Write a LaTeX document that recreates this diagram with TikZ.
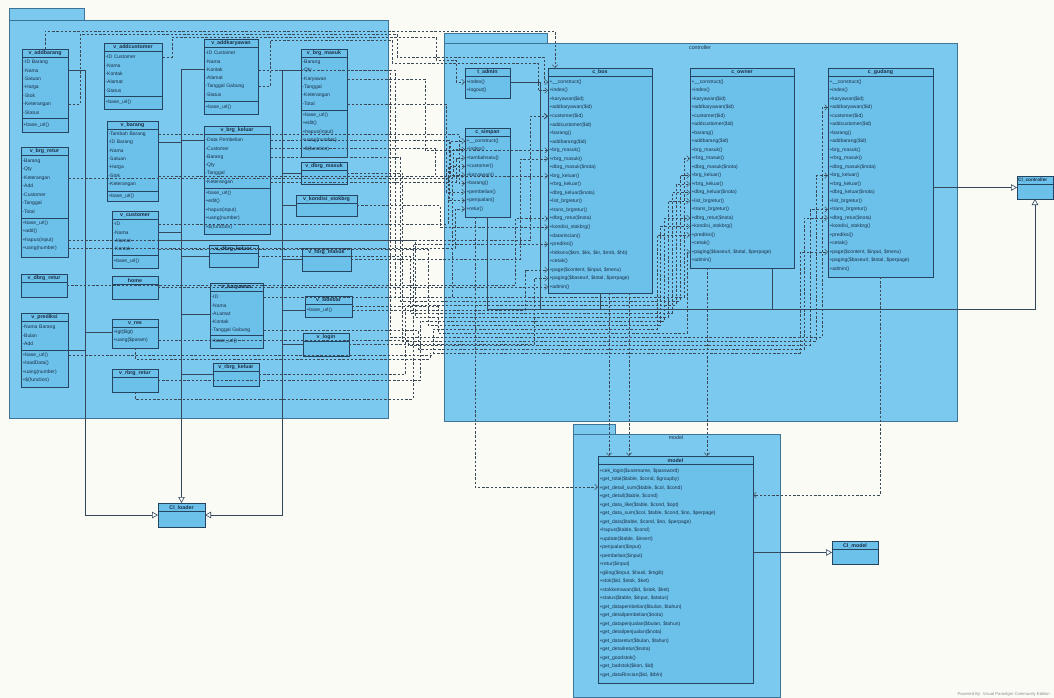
\documentclass[tikz,border=0pt]{standalone}
\usepackage{fontspec}
\setmainfont{Liberation Sans}
\usetikzlibrary{arrows.meta}

\pgfdeclarelayer{boxes}
\pgfdeclarelayer{lines}
\pgfsetlayers{boxes,lines,main}

\definecolor{bgc}{HTML}{FBFBF6}
\definecolor{pkgfill}{HTML}{7BC9EE}
\definecolor{pkgdraw}{HTML}{3F7496}
\definecolor{clsfill}{HTML}{6CC1EB}
\definecolor{clsdraw}{HTML}{24445F}
\definecolor{txtc}{HTML}{1B2E45}
\definecolor{depc}{HTML}{3B4856}
\definecolor{genc}{HTML}{33485C}

\tikzset{
  pkgbox/.style={draw=pkgdraw, fill=pkgfill, line width=0.8pt, inner sep=0, outer sep=0},
  clsbox/.style={draw=clsdraw, fill=clsfill, line width=0.6pt, inner sep=0, outer sep=0},
  clsline/.style={draw=clsdraw, line width=0.5pt},
  clstitle/.style={font=\fontsize{5.3}{6}\selectfont\bfseries, text=txtc, inner sep=0},
  rowtxt/.style={font=\fontsize{5}{6}\selectfont, text=txtc, inner sep=0, anchor=west, align=left},
  pkglabel/.style={font=\fontsize{5.3}{6}\selectfont, text=txtc, inner sep=0},
  dep/.style={draw=depc, line width=0.45pt, dash pattern=on 2.4pt off 1.8pt,
    -{Straight Barb[length=3pt,width=5.5pt]}},
  gen/.style={draw=genc, line width=0.6pt, -{Triangle[length=6pt,width=6.5pt,fill=white]}},
  genl/.style={draw=genc, line width=0.6pt},
}

% class box: name, x, y, width, height, title
\newcommand{\ucls}[6]{%
  \begin{pgfonlayer}{boxes}
  \node[clsbox, minimum width=#4pt, minimum height=#5pt, anchor=north west] (#1) at (#2,#3) {};
  \draw[clsline] ([yshift=-8.5pt]#1.north west) -- ([yshift=-8.5pt]#1.north east);
  \end{pgfonlayer}
  \node[clstitle] (#1-t) at ([yshift=-4.4pt]#1.north) {#6};
}
% compartment separator: class, offset from top
\newcommand{\usep}[2]{%
  \begin{pgfonlayer}{boxes}
  \draw[clsline] ([yshift=-#2pt]#1.north west) -- ([yshift=-#2pt]#1.north east);
  \end{pgfonlayer}}
% member rows: prefix, class, width, first offset, step, list
\newcommand{\urows}[6]{%
  \foreach \rt [count=\ri] in {#6} {
    \node[rowtxt, text width=#3pt] (#1\ri) at ([yshift={-(#4+(\ri-1)*#5)*1pt}]#2.north west) {\hspace*{1.3pt}\rt};
  }%
}
% dependency routes
\newcommand{\depa}[3]{\draw[dep] (#1) -- (#1 -| #2) -- (#2 |- #3) -- (#3);}
\newcommand{\depb}[5]{\draw[dep] (#1) -- (#1 -| #2) -- (#2 |- #3) -- (#3 -| #4) -- (#4 |- #5) -- (#5);}
\newcommand{\depc}[7]{\draw[dep] (#1) -- (#1 -| #2) -- (#2 |- #3) -- (#3 -| #4) -- (#4 |- #5) -- (#5 -| #6) -- (#6 |- #7) -- (#7);}

\begin{document}
\begin{tikzpicture}[x=1pt,y=-1pt]
\useasboundingbox (0,0) rectangle (1054,698);

% packages
\begin{pgfonlayer}{boxes}
\fill[bgc] (0,0) rectangle (1054,698);
\node[pkgbox, minimum width=75pt, minimum height=12pt, anchor=north west] (viewtab) at (9,8) {};
\node[pkgbox, minimum width=379pt, minimum height=398pt, anchor=north west] (viewpkg) at (9,20) {};
\node[pkgbox, minimum width=103pt, minimum height=10pt, anchor=north west] (ctrltab) at (444,33) {};
\node[pkgbox, minimum width=513pt, minimum height=378pt, anchor=north west] (ctrlpkg) at (444,43) {};
\node[pkgbox, minimum width=42pt, minimum height=10pt, anchor=north west] (modeltab) at (573,424) {};
\node[pkgbox, minimum width=207pt, minimum height=263pt, anchor=north west] (modelpkg) at (573,434) {};
\end{pgfonlayer}
\node[pkglabel] (ctrllabel) at (700,48) {controller};
\node[pkglabel] (modellabel) at (676,438) {model};

% ---------- views ----------
\ucls{vaddbarang}{22}{49}{46}{83}{v\_addbarang}
\urows{vaddbarang-a}{vaddbarang}{46}{13}{8.4}{-ID Barang,-Nama,-Satuan,-Harga,-Stok,-Keterangan,-Status}
\usep{vaddbarang}{69}
\urows{vaddbarang-m}{vaddbarang}{46}{76}{8.4}{+base\_url()}

\ucls{vaddcustomer}{104}{43}{58}{66}{v\_addcustomer}
\urows{vaddcustomer-a}{vaddcustomer}{58}{14}{8.4}{-ID Customer,-Nama,-Kontak,-Alamat,-Status}
\usep{vaddcustomer}{53}
\urows{vaddcustomer-m}{vaddcustomer}{58}{59}{8.4}{+base\_url()}

\ucls{vaddkaryawan}{204}{39}{54}{75}{v\_addkaryawan}
\urows{vaddkaryawan-a}{vaddkaryawan}{54}{14}{8.4}{-ID Customer,-Nama,-Kontak,-Alamat,-Tanggal Gabung,-Status}
\usep{vaddkaryawan}{62}
\urows{vaddkaryawan-m}{vaddkaryawan}{54}{68}{8.4}{+base\_url()}

\ucls{vbrgmasuk}{301}{49}{46}{108}{v\_brg\_masuk}
\urows{vbrgmasuk-a}{vbrgmasuk}{46}{13}{8.4}{-Barang,-Qty,-Karyawan,-Tanggal,-Keterangan,-Total}
\usep{vbrgmasuk}{61}
\urows{vbrgmasuk-m}{vbrgmasuk}{46}{66}{8.5}{+base\_url(),+edit(),+hapus(input),+uang(number),+\$(function)}

\ucls{vbarang}{107}{121}{51}{80}{v\_barang}
\urows{vbarang-a}{vbarang}{51}{13}{8.4}{-Tambah Barang,-ID Barang,-Nama,-Satuan,-Harga,-Stok,-Keterangan}
\usep{vbarang}{70}
\urows{vbarang-m}{vbarang}{51}{75}{8.4}{+base\_url()}

\ucls{vbrgretur}{21}{147}{47}{110}{v\_brg\_retur}
\urows{vbrgretur-a}{vbrgretur}{47}{14}{8.4}{-Barang,-Qty,-Keterangan,-Add,-Customer,-Tanggal,-Total}
\usep{vbrgretur}{71}
\urows{vbrgretur-m}{vbrgretur}{47}{76}{8.5}{+base\_url(),+add(),+hapus(input),+uang(number)}

\ucls{vbrgkeluar}{204}{126}{66}{108}{v\_brg\_keluar}
\urows{vbrgkeluar-a}{vbrgkeluar}{66}{14}{8.4}{-Data Pembelian,-Customer,-Barang,-Qty,-Tanggal,-Keterangan}
\usep{vbrgkeluar}{62}
\urows{vbrgkeluar-m}{vbrgkeluar}{66}{67}{8.5}{+base\_url(),+edit(),+hapus(input),+uang(number),+\$(function)}

\ucls{vdbrgmasuk}{301}{162}{46}{22}{v\_dbrg\_masuk}
\ucls{vkondisi}{296}{195}{61}{21}{v\_kondisi\_stokbrg}

\ucls{vcustomer}{112}{211}{46}{57}{v\_customer}
\urows{vcustomer-a}{vcustomer}{46}{13}{8.4}{-ID,-Nama,-Alamat,-Kontak}
\usep{vcustomer}{44}
\urows{vcustomer-m}{vcustomer}{46}{50}{8.4}{+base\_url()}

\ucls{vdbrgretur}{21}{274}{46}{23}{v\_dbrg\_retur}
\ucls{vhome}{112}{276}{46}{23}{home}
\ucls{vdbrgkeluar}{209}{245}{49}{22}{v\_dbrg\_keluar}
\ucls{vrbrgmasuk}{302}{248}{49}{23}{v\_rbrg\_masuk}

\ucls{vkaryawan}{210}{283}{53}{65}{v\_karyawan}
\urows{vkaryawan-a}{vkaryawan}{53}{14}{8.4}{-ID,-Nama,-ALamat,-Kontak,-Tanggal Gabung}
\usep{vkaryawan}{52}
\urows{vkaryawan-m}{vkaryawan}{53}{58}{8.4}{+base\_url()}

\ucls{vsidebar}{305}{296}{47}{21}{v\_sidebar}
\urows{vsidebar-m}{vsidebar}{47}{14}{8.4}{+base\_url()}
\ucls{vlogin}{303}{333}{46}{23}{v\_login}

\ucls{vprediksi}{21}{313}{47}{74}{v\_prediksi}
\urows{vprediksi-a}{vprediksi}{47}{14}{8.4}{-Nama Barang,-Bulan,-Add}
\usep{vprediksi}{37}
\urows{vprediksi-m}{vprediksi}{47}{42}{8.4}{+base\_url(),+loadData(),+uang(number),+\$(function)}

\ucls{vres}{112}{319}{46}{29}{v\_res}
\urows{vres-m}{vres}{46}{13}{8.5}{+lgt(\$lgt),+uang(\$param)}
\ucls{vrbrgretur}{112}{369}{46}{23}{v\_rbrg\_retur}
\ucls{vrbrgkeluar}{213}{363}{46}{23}{v\_rbrg\_keluar}

% ---------- controllers ----------
\ucls{tadmin}{465}{68}{45}{30}{t\_admin}
\urows{tadmin-m}{tadmin}{45}{14}{8.5}{+index(),+logout()}

\ucls{csimpan}{465}{128}{45}{89}{c\_simpan}
\urows{csimpan-m}{csimpan}{45}{13}{8.5}{+\_\_construct(),+index(),+tambahsatu(),+customer(),+karyawan(),+barang(),+pembelian(),+penjualan(),+retur()}

\ucls{cbos}{548}{68}{104}{225}{c\_bos}
\urows{cbos-m}{cbos}{104}{14}{8.54}{+\_\_construct(),+index(),+karyawan(\$id),+addkaryawan(\$id),+customer(\$id),+addcustomer(\$id),+barang(),+addbarang(\$id),+brg\_masuk(),+rbrg\_masuk(),+dbrg\_masuk(\$nota),+brg\_keluar(),+rbrg\_keluar(),+dbrg\_keluar(\$nota),+list\_brgretur(),+trans\_brgretur(),+dbrg\_retur(\$nota),+kondisi\_stokbrg(),+datarincian(),+prediksi(),{+hitkonv(\$km, \$kk, \$kr, \$mrb, \$hb)},+cetak(),{+page(\$content, \$input, \$menu)},{+paging(\$baseurl, \$total, \$perpage)},+admin()}

\ucls{cowner}{690}{68}{104}{200}{c\_owner}
\urows{cowner-m}{cowner}{104}{14}{8.5}{+\_\_construct(),+index(),+karyawan(\$id),+addkaryawan(\$id),+customer(\$id),+addcustomer(\$id),+barang(),+addbarang(\$id),+brg\_masuk(),+rbrg\_masuk(),+dbrg\_masuk(\$nota),+brg\_keluar(),+rbrg\_keluar(),+dbrg\_keluar(\$nota),+list\_brgretur(),+trans\_brgretur(),+dbrg\_retur(\$nota),+kondisi\_stokbrg(),+prediksi(),+cetak(),{+paging(\$baseurl, \$total, \$perpage)},+admin()}

\ucls{cgudang}{828}{68}{105}{209}{c\_gudang}
\urows{cgudang-m}{cgudang}{105}{14}{8.5}{+\_\_construct(),+index(),+karyawan(\$id),+addkaryawan(\$id),+customer(\$id),+addcustomer(\$id),+barang(),+addbarang(\$id),+brg\_masuk(),+rbrg\_masuk(),+dbrg\_masuk(\$nota),+brg\_keluar(),+rbrg\_keluar(),+dbrg\_keluar(\$nota),+list\_brgretur(),+trans\_brgretur(),+dbrg\_retur(\$nota),+kondisi\_stokbrg(),+prediksi(),+cetak(),{+page(\$content, \$input, \$menu)},{+paging(\$baseurl, \$total, \$perpage)},+admin()}

% Cl_controller sits against the right edge, so its title is set a little smaller
\begin{pgfonlayer}{boxes}
\node[clsbox, minimum width=36pt, minimum height=23pt, anchor=north west] (clcontroller) at (1017,176) {};
\draw[clsline] ([yshift=-8.5pt]clcontroller.north west) -- ([yshift=-8.5pt]clcontroller.north east);
\end{pgfonlayer}
\node[clstitle, font=\fontsize{4.7}{5.5}\selectfont\bfseries, anchor=west] (clcontroller-t) at ([xshift=1pt,yshift=-4.4pt]clcontroller.north west) {Cl\_controller};

% ---------- model ----------
\ucls{model}{598}{456}{155}{227}{model}
\urows{model-m}{model}{155}{14.7}{8.5}{{+cek\_login(\$username, \$password)},{+get\_total(\$table, \$cond, \$groupby)},{+get\_detail\_sum(\$table, \$col, \$cond)},{+get\_detail(\$table, \$cond)},{+get\_data\_like(\$table, \$cond, \$opt)},{+get\_data\_sum(\$col, \$table, \$cond, \$no, \$perpage)},{+get\_data(\$table, \$cond, \$no, \$perpage)},{+hapus(\$table, \$cond)},{+update(\$table, \$insert)},+penjualan(\$input),+pembelian(\$input),+retur(\$input),{+giling(\$input, \$hasil, \$mgilt)},{+stok(\$id, \$stok, \$ket)},{+stokkemasan(\$id, \$stok, \$ket)},{+status(\$table, \$input, \$status)},{+get\_datapembelian(\$bulan, \$tahun)},+get\_detailpembelian(\$nota),{+get\_datapenjualan(\$bulan, \$tahun)},+get\_detailpenjualan(\$nota),{+get\_dataretur(\$bulan, \$tahun)},+get\_detailretur(\$nota),+get\_goodstok(),{+get\_badstok(\$kon, \$id)},{+get\_dataRincian(\$id, \$tbln)}}

\ucls{clmodel}{832}{541}{46}{23}{Cl\_model}
\ucls{clloader}{158}{503}{47}{24}{Cl\_loader}

\begin{pgfonlayer}{lines}
% routing lanes
\foreach \v in {80,85,172,270,282,390,392,395,397,400,402,405,408,410,413,415,418,420,425,428,430,433,435,436,438,440,446,448,449,450,452,453,455,456,459,475,515,520,525,530,534,537,538,540,544,555,609,629,657,660,664,668,672,676,680,684,687,707,800,804,810,816,822,880}
  \coordinate (lx\v) at (\v,0);
\foreach \v in {31,34,37,40,57,60,63,297,301,305,309,313,317,321,325,329,333,337,341,345,349,353,359,399,487,495}
  \coordinate (ly\v) at (0,\v);

% ---------- dependencies: views -> c_bos / t_admin ----------
\draw[dep] (vaddbarang.north) |- (lx555 |- ly31) -- (lx555 |- cbos.north);
\depc{vaddbarang-a6.east}{lx80}{ly34}{lx397}{ly57}{lx544}{cbos-m1.west}
\depc{vaddkaryawan-a5.east}{lx270}{ly40}{lx392}{ly63}{lx538}{cbos-m2.west}
\depc{vaddcustomer-a1.east}{lx172}{ly37}{lx436}{ly60}{lx456}{tadmin-m1.west}
\draw[dep, line width=0.9pt] (vcustomer-a3.east) -- (vcustomer-a3.east -| lx530) -- (lx530 |- cbos-m5.west) -- (cbos-m5.west);
\depa{vbrgmasuk-a3.east}{lx425}{cbos-m9.west}
\depa{vrbrgmasuk.east}{lx520}{cbos-m10.west}
\depa{vbrgkeluar-a2.east}{lx435}{cbos-m12.west}
\depa{vdbrgretur.east}{lx515}{cbos-m17.west}
\depa{vkondisi.east}{lx440}{cbos-m18.west}
\depa{vsidebar-m1.east}{lx525}{cbos-m23.west}
\depa{vlogin.east}{lx534}{cbos-m24.west}
\depa{vhome.east}{lx537}{cbos-m25.west}
\draw[dep] (vrbrgretur.south) -- (vrbrgretur.south |- ly399) -- (lx413 |- ly399) -- (lx413 |- cbos-m20.west) -- (cbos-m20.west);

% views -> c_simpan
\depa{vbarang-a6.east}{lx450}{csimpan-m1.west}
\depa{vbrgretur-a3.east}{lx453}{csimpan-m2.west}
\depa{vbrgkeluar-a6.east}{lx456}{csimpan-m3.west}
\depa{vcustomer-a1.east}{lx448}{csimpan-m4.west}
\depa{vkaryawan-a1.east}{lx452}{csimpan-m5.west}
\depa{vbarang-a1.east}{lx459}{csimpan-m6.west}
\depa{vbrgmasuk-a6.east}{lx446}{csimpan-m7.west}
\depa{vbrgkeluar-a1.east}{lx449}{csimpan-m8.west}
\depa{vbrgretur-m4.east}{lx455}{csimpan-m9.west}

% views -> c_owner
\depb{vbrgmasuk-a2.east}{lx395}{ly297}{lx684}{cowner-m10.west}
\depb{vbrgkeluar-a3.east}{lx400}{ly301}{lx680}{cowner-m12.west}
\depb{vrbrgkeluar.east}{lx405}{ly305}{lx676}{cowner-m13.west}
\depb{vdbrgkeluar.east}{lx410}{ly313}{lx672}{cowner-m14.west}
\depb{vbrgretur-m3.east}{lx415}{ly317}{lx668}{cowner-m15.west}
\depb{vrbrgretur.east}{lx420}{ly321}{lx664}{cowner-m17.west}
\depb{vcustomer-a4.east}{lx428}{ly325}{lx660}{cowner-m18.west}
\depb{vprediksi-m1.east}{lx433}{ly329}{lx657}{cowner-m19.west}
\depb{vsidebar.east}{lx438}{ly333}{lx687}{cowner-m21.west}

% views -> c_gudang
\depb{vaddkaryawan-a3.east}{lx390}{ly337}{lx822}{cgudang-m4.west}
\depb{vdbrgmasuk.east}{lx402}{ly341}{lx816}{cgudang-m12.west}
\depb{vres-m2.east}{lx408}{ly345}{lx810}{cgudang-m16.west}
\depb{vkaryawan-a5.east}{lx418}{ly349}{lx804}{cgudang-m17.west}
\draw[dep] (vres.south) -- (vres.south |- ly359) -- (lx430 |- ly359) -- (lx430 |- ly353) -- (lx800 |- ly353) -- (lx800 |- cgudang-m21.west) -- (cgudang-m21.west);

% controllers -> model
\draw[dep] (cbos.south -| lx609) -- (lx609 |- model.north);
\draw[dep] (cbos.south -| lx629) -- (lx629 |- model.north);
\draw[dep] (cowner.south -| lx707) -- (lx707 |- model.north);
\draw[dep] (cgudang.south -| lx880) -- (lx880 |- ly495) -- (ly495 -| model.east);
\draw[dep] (csimpan.south -| lx475) -- (lx475 |- ly487) -- (ly487 -| model.west);

% ---------- generalisations ----------
\draw[gen] (vaddbarang-a2.east) -| (lx85 |- clloader.west) -- (clloader.west);
\draw[genl] (vprediksi.east) -- (vprediksi.east -| lx85);
\draw[genl] (vres-m1.west) -- (vres-m1.west -| lx85);

\draw[gen] (vaddkaryawan-a3.west) -| (clloader.north);
\foreach \p in {vbarang-a2.east, vbrgkeluar-a1.west, vcustomer-a2.east, vkaryawan-a3.west, vdbrgkeluar.west, vrbrgkeluar.west}
  \draw[genl] (\p) -- (\p -| clloader.north);

\draw[gen] (vbrgmasuk-a2.west) -| (lx282 |- clloader.east) -- (clloader.east);
\foreach \p in {vsidebar-m1.west, vlogin.west, vrbrgmasuk.west, vdbrgmasuk.west, vkondisi.west}
  \draw[genl] (\p) -- (\p -| lx282);

\draw[gen] (cgudang.east |- clcontroller.west) -- (clcontroller.west);
\draw[gen] (csimpan.south) |- (ly309 -| clcontroller.south) -- (clcontroller.south);
\draw[genl] (tadmin-m1.east) -| (lx540 |- ly309);
\draw[genl] (cbos.south) -- (cbos.south |- ly309);
\coordinate (owS) at ([xshift=30pt]cowner.south);
\draw[genl] (owS) -- (owS |- ly309);

\draw[gen] (model.east |- clmodel.west) -- (clmodel.west);
\end{pgfonlayer}

\node[font=\fontsize{4.2}{5}\selectfont, text=black!45, anchor=east, inner sep=0] (vpmark) at (1050,694) {Powered By: Visual Paradigm Community Edition};
\end{tikzpicture}
\end{document}
